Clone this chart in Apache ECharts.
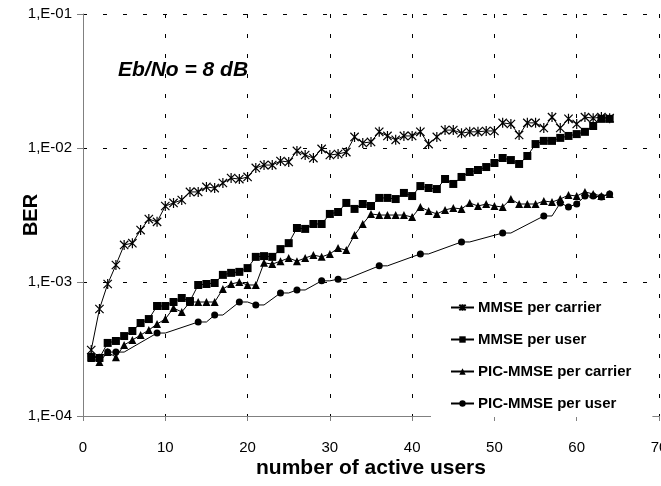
<!DOCTYPE html>
<html>
<head>
<meta charset="utf-8">
<script src="https://cdn.jsdelivr.net/npm/echarts@6/dist/echarts.min.js"></script>
<style>html,body{margin:0;padding:0;background:#fff;}#c{width:661px;height:486px;}</style>
</head>
<body>
<div id="c"></div>
<script>
// number of active users (x) for the dense series
const users = [1,2,3,4,5,6,7,8,9,10,11,12,13,14,15,16,17,18,19,20,21,22,23,24,25,26,27,28,29,30,31,32,
  33,34,35,36,37,38,39,40,41,42,43,44,45,46,47,48,49,50,51,52,53,54,55,56,57,58,59,60,61,62,63,64];

const mmsePerCarrier = [3.11e-4,6.29e-4,9.66e-4,1.34e-3,1.89e-3,1.95e-3,2.44e-3,2.95e-3,2.81e-3,3.69e-3,
  3.89e-3,4.09e-3,4.70e-3,4.70e-3,5.12e-3,5.02e-3,5.48e-3,5.97e-3,5.86e-3,6.08e-3,
  7.10e-3,7.46e-3,7.46e-3,8.00e-3,7.87e-3,9.51e-3,8.87e-3,8.41e-3,9.84e-3,8.87e-3,
  9.02e-3,9.33e-3,1.21e-2,1.09e-2,1.11e-2,1.32e-2,1.23e-2,1.15e-2,1.23e-2,1.23e-2,
  1.32e-2,1.07e-2,1.21e-2,1.36e-2,1.36e-2,1.29e-2,1.32e-2,1.32e-2,1.34e-2,1.34e-2,
  1.54e-2,1.51e-2,1.25e-2,1.54e-2,1.54e-2,1.41e-2,1.70e-2,1.41e-2,1.65e-2,1.51e-2,
  1.70e-2,1.67e-2,1.70e-2,1.67e-2];

const mmsePerUser = [2.75e-4,2.71e-4,3.51e-4,3.63e-4,3.95e-4,4.31e-4,4.94e-4,5.29e-4,6.62e-4,6.62e-4,
  7.09e-4,7.60e-4,7.21e-4,9.50e-4,9.66e-4,9.83e-4,1.13e-3,1.17e-3,1.19e-3,1.27e-3,
  1.54e-3,1.56e-3,1.54e-3,1.76e-3,1.95e-3,2.53e-3,2.49e-3,2.71e-3,2.71e-3,3.22e-3,
  3.33e-3,3.89e-3,3.51e-3,3.82e-3,3.69e-3,4.24e-3,4.24e-3,4.16e-3,4.62e-3,4.38e-3,
  5.20e-3,5.03e-3,4.94e-3,5.87e-3,5.39e-3,6.08e-3,6.62e-3,6.85e-3,7.21e-3,7.73e-3,
  8.42e-3,8.13e-3,7.60e-3,8.72e-3,1.07e-2,1.13e-2,1.13e-2,1.19e-2,1.23e-2,1.27e-2,
  1.32e-2,1.46e-2,1.65e-2,1.65e-2];

const picPerCarrier = [2.71e-4,2.53e-4,3.00e-4,2.75e-4,3.39e-4,3.69e-4,4.02e-4,4.38e-4,4.86e-4,5.29e-4,
  6.40e-4,5.97e-4,7.09e-4,7.09e-4,7.09e-4,7.09e-4,8.87e-4,9.66e-4,1.00e-3,9.50e-4,
  9.50e-4,1.39e-3,1.36e-3,1.43e-3,1.51e-3,1.43e-3,1.51e-3,1.59e-3,1.54e-3,1.62e-3,
  1.79e-3,1.73e-3,2.24e-3,2.71e-3,3.22e-3,3.16e-3,3.16e-3,3.16e-3,3.16e-3,3.05e-3,
  3.63e-3,3.39e-3,3.22e-3,3.45e-3,3.57e-3,3.51e-3,3.89e-3,3.69e-3,3.82e-3,3.69e-3,
  3.63e-3,4.16e-3,3.82e-3,3.82e-3,3.82e-3,4.02e-3,3.95e-3,4.16e-3,4.46e-3,4.38e-3,
  4.70e-3,4.54e-3,4.38e-3,4.54e-3];

// PIC-MMSE per user: sparse points (marked = 1 shows a marker)
const picUserX = [1,2,3,4,5,9,10,14,15,16,17,19,20,21,22,24,25,26,27,29,30,31,32,36,37,41,42,46,47,51,52,56,57,58,59,60,61,62,63,64];
const picPerUser = [2.80e-4,2.75e-4,3.00e-4,3.00e-4,3.00e-4,4.16e-4,4.16e-4,5.03e-4,5.03e-4,5.67e-4,5.67e-4,
  7.09e-4,7.09e-4,6.74e-4,6.74e-4,8.28e-4,8.28e-4,8.72e-4,8.72e-4,1.02e-3,1.02e-3,1.05e-3,1.05e-3,
  1.32e-3,1.32e-3,1.62e-3,1.62e-3,1.99e-3,1.99e-3,2.32e-3,2.32e-3,3.11e-3,3.11e-3,
  3.89e-3,3.63e-3,3.82e-3,4.38e-3,4.38e-3,4.31e-3,4.54e-3];
const picUserMarked = [1,1,1,1,0,1,0,1,0,1,0,1,0,1,0,1,0,1,0,1,0,1,0,1,0,1,0,1,0,1,0,1,0,1,1,1,1,1,1,1];

const seriesNames = ['MMSE per carrier','MMSE per user','PIC-MMSE per carrier','PIC-MMSE per user'];
const yTicks = [1e-4,1e-3,1e-2,1e-1];

const FONT = 'Liberation Sans, Arial, sans-serif';
const pair = (xs, ys) => xs.map((x, i) => [x, ys[i]]);
const starPath = 'path://M0,0L10,10M10,0L0,10M5,-1L5,11';

const chart = echarts.init(document.getElementById('c'), null, {renderer: 'canvas'});
const baseLine = {type: 'line', smooth: false, animation: false, color: '#000',
  lineStyle: {color: '#000', width: 1}, z: 3};

chart.setOption({
  backgroundColor: '#fff',
  animation: false,
  grid: {left: 83, right: 2, top: 14, bottom: 70, containLabel: false, outerBoundsMode: 'none'},
  xAxis: {
    type: 'value', min: 0, max: 70, interval: 10,
    name: 'number of active users', nameLocation: 'middle', nameGap: 42, nameMoveOverlap: false,
    nameTextStyle: {fontFamily: FONT, fontWeight: 'bold', fontSize: 21, color: '#000'},
    axisLine: {show: true, lineStyle: {color: '#808080', width: 1}},
    axisTick: {show: true, inside: false, length: 5, lineStyle: {color: '#808080'}},
    axisLabel: {fontFamily: FONT, fontSize: 15, color: '#000', margin: 24},
    splitLine: {show: true, lineStyle: {color: '#000', type: [4, 16], width: 1}}
  },
  yAxis: {
    type: 'log', logBase: 10, min: yTicks[0], max: yTicks[yTicks.length - 1],
    name: 'BER', nameLocation: 'middle', nameGap: 42, nameRotate: 90, nameMoveOverlap: false,
    nameTextStyle: {fontFamily: FONT, fontWeight: 'bold', fontSize: 20, color: '#000'},
    axisLine: {show: true, lineStyle: {color: '#808080', width: 1}},
    axisTick: {show: true, inside: false, length: 6, lineStyle: {color: '#808080'}},
    axisLabel: {fontFamily: FONT, fontSize: 15, color: '#000', margin: 11,
      formatter: v => '1,E-' + String(Math.round(-Math.log10(v))).padStart(2, '0')},
    splitLine: {show: true, lineStyle: {color: '#000', type: [4, 16], width: 1}}
  },
  legend: {
    orient: 'vertical', left: 431, top: 293,
    backgroundColor: '#fff', padding: [7, 21, 6, 19],
    itemGap: 17, itemWidth: 23, itemHeight: 8,
    textStyle: {fontFamily: FONT, fontWeight: 'bold', fontSize: 15, color: '#000', padding: [0, 0, 0, -1]},
    data: seriesNames, z: 10
  },
  graphic: [{
    type: 'text', left: 118, top: 60, z: 20,
    style: {text: 'Eb/No = 8 dB', font: 'italic bold 21px ' + FONT, fill: '#000'}
  }],
  series: [
    Object.assign({}, baseLine, {
      name: seriesNames[0], data: pair(users, mmsePerCarrier),
      symbol: starPath, symbolSize: 10, symbolKeepAspect: true,
      itemStyle: {color: '#000', borderColor: '#000', borderWidth: 1.2}
    }),
    Object.assign({}, baseLine, {
      name: seriesNames[1], data: pair(users, mmsePerUser),
      symbol: 'rect', symbolSize: 8, itemStyle: {color: '#000'}
    }),
    Object.assign({}, baseLine, {
      name: seriesNames[2], data: pair(users, picPerCarrier),
      symbol: 'triangle', symbolSize: 8, itemStyle: {color: '#000'}
    }),
    Object.assign({}, baseLine, {
      name: seriesNames[3],
      data: picUserX.map((x, i) => picUserMarked[i]
        ? {value: [x, picPerUser[i]]}
        : {value: [x, picPerUser[i]], symbol: 'none'}),
      symbol: 'circle', symbolSize: 7, showAllSymbol: true, itemStyle: {color: '#000'}
    })
  ]
});
</script>
</body>
</html>
